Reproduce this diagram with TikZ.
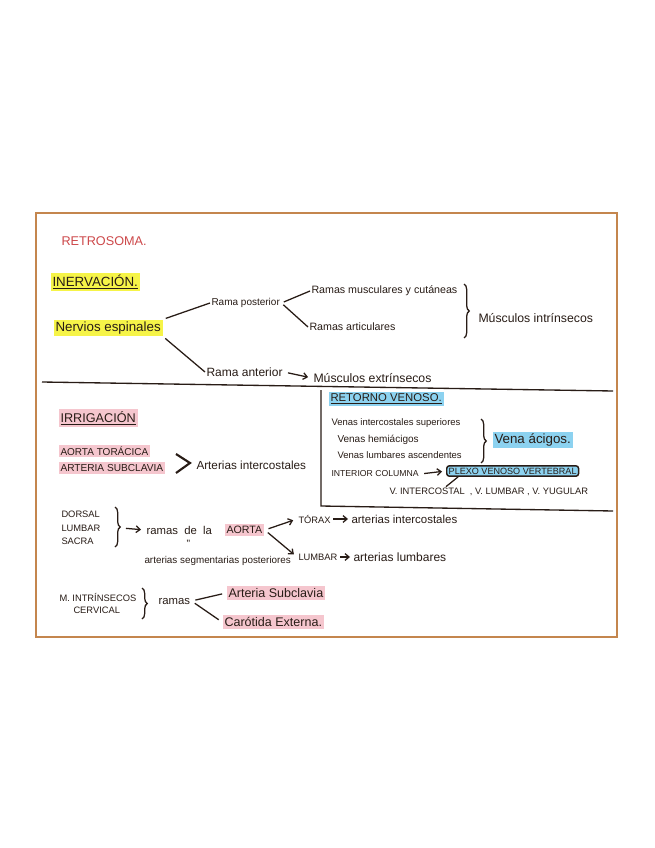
\documentclass[tikz,border=0pt]{standalone}
\usepackage{fontspec}
\setmainfont{Liberation Sans}
\usetikzlibrary{arrows.meta,calc,decorations.pathreplacing}

\definecolor{ink}{RGB}{40,28,22}
\definecolor{retro}{RGB}{205,72,74}
\definecolor{hlyellow}{RGB}{246,244,72}
\definecolor{hlpink}{RGB}{245,198,206}
\definecolor{hlblue}{RGB}{140,210,240}
\definecolor{cardedge}{RGB}{196,134,78}

\tikzset{every picture/.style={line width=0.75pt}}
\tikzset{
  txt/.style={anchor=west, inner sep=0.75pt, align=left, text=ink},
  fs/.style={font=\fontsize{#1}{#1}\selectfont},
  hly/.style={fill=hlyellow, inner sep=1.5pt},
  hlp/.style={fill=hlpink, inner sep=1.5pt},
  hlb/.style={fill=hlblue, inner sep=1.5pt},
  pen/.style={draw=ink, line width=0.95pt},
  arr/.style={pen, -{Straight Barb[length=3pt,width=5pt]}, shorten <=3pt, shorten >=3pt},
  shortarr/.style={pen, -{Straight Barb[length=3pt,width=5pt]}, shorten <=1pt, shorten >=1.5pt},
  hbrace/.style={pen, decorate, decoration={brace, amplitude=4pt}}
}

\begin{document}
\begin{tikzpicture}[x=0.75pt,y=0.75pt,yscale=-1,xscale=1]
    \useasboundingbox (0,0) rectangle (655,848);
    \fill [white] (0,0) rectangle (655,848);

    %Shape: Card
    \draw [draw=cardedge, line width=2.2, fill=white] (36,213) rectangle (617,637);
    %Straight Lines
    \draw [pen, line width=1] (42,382) -- (613,391) ;
    %Straight Lines
    \draw [pen, line width=1] (321,390) -- (321,506) -- (613,511) ;

    % Text Node
    \draw (60,241) node [txt, fs=9.5, text=retro] (title) {RETROSOMA.};
    % Text Node
    \draw (50,282) node [txt, fs=10, hly] (inerv) {\underline{INERVACIÓN.}};
    % Text Node
    \draw (53,328) node [txt, fs=10, hly] (nerv) {Nervios espinales};
    % Text Node
    \draw (210,303) node [txt, fs=7.5] (post) {Rama posterior};
    % Text Node
    \draw (310,291) node [txt, fs=8] (muscut) {Ramas musculares y cutáneas};
    % Text Node
    \draw (308,327) node [txt, fs=8] (artic) {Ramas articulares};
    % Text Node
    \draw (477,318) node [txt, fs=9.2] (intr) {Músculos intrínsecos};
    % Text Node
    \draw (205,372) node [txt, fs=9] (ant) {Rama anterior};
    % Text Node
    \draw (312,378) node [txt, fs=9.2] (extr) {Músculos extrínsecos};

    %Straight Lines
    \draw [pen, shorten <=2pt] (nerv.north east) -- (post.west) ;
    \draw [pen, shorten <=2pt] (nerv.south east) -- (ant.west) ;
    \draw [pen, shorten <=2pt] (post.east) -- (muscut.west) ;
    \draw [pen, shorten <=2pt] (post.east) -- (artic.west) ;
    \draw [arr] (ant.east) -- (extr.west) ;
    %Shape: Brace
    \coordinate (bintrA) at (464,284);
    \coordinate (bintrB) at (464,338);
    \draw [hbrace] (bintrA) -- (bintrB) ;

    % Text Node
    \draw (58,418) node [txt, fs=9.5, hlp] (irrig) {\underline{IRRIGACIÓN}};
    % Text Node
    \draw (58,451) node [txt, fs=7.5, hlp] (aortat) {AORTA TORÁCICA};
    % Text Node
    \draw (58,468) node [txt, fs=7.6, hlp] (subcl) {ARTERIA SUBCLAVIA};
    % Text Node
    \draw (195,465) node [txt, fs=8.8] (interc) {Arterias intercostales};
    %Shape: Chevron
    \coordinate (chev) at (190,463);
    \draw [pen, line width=1.6] (chev) ++(-14,-9) -- (chev) -- ++(-14,10) ;

    % Text Node
    \draw (328,399) node [txt, fs=8.5, hlb] (retorno) {\underline{RETORNO VENOSO.}};
    % Text Node
    \draw (330,423) node [txt, fs=7.1] (vsup) {Venas intercostales superiores};
    % Text Node
    \draw (336,440) node [txt, fs=7.5] (vhemi) {Venas hemiácigos};
    % Text Node
    \draw (336,455) node [txt, fs=7.1] (vlumb) {Venas lumbares ascendentes};
    %Shape: Brace
    \coordinate (bacigA) at (481,419);
    \coordinate (bacigB) at (481,463);
    \draw [hbrace] (bacigA) -- (bacigB) ;
    % Text Node
    \draw (492,440) node [txt, fs=10, hlb] (acigos) {Vena ácigos.};
    % Text Node
    \draw (330,474) node [txt, fs=6.5] (intcol) {INTERIOR COLUMNA};
    % Text Node
    \draw (446,471) node [txt, fs=6.8, hlb, draw=ink, rounded corners=2pt, line width=1.1pt] (plexo) {PLEXO VENOSO VERTEBRAL};
    % Text Node
    \draw (388,492) node [txt, fs=7] (vlist) {V. INTERCOSTAL\ \ , V. LUMBAR , V. YUGULAR};
    %Straight Lines
    \draw [arr] (intcol.east) -- (plexo.west) ;
    \draw [pen] ($(plexo.south west)+(12,0)$) -- ($(vlist.north west)+(58,0)$) ;

    % Text Node
    \draw (60,514) node [txt, fs=7] (dorsal) {DORSAL};
    % Text Node
    \draw (60,528) node [txt, fs=7] (lumbar) {LUMBAR};
    % Text Node
    \draw (60,541) node [txt, fs=7] (sacra) {SACRA};
    %Shape: Brace
    \coordinate (bdorsA) at (115,507);
    \coordinate (bdorsB) at (115,547);
    \coordinate (bdorsT) at (122,528);
    \draw [hbrace] (bdorsA) -- (bdorsB) ;
    % Text Node
    \draw (145,530) node [txt, fs=8.5] (ramas) {ramas\ \ de\ \ la};
    % Text Node
    \draw (224,530) node [txt, fs=8, hlp] (aorta) {AORTA};
    % Text Node
    \draw (185,544) node [txt, fs=8] (ditto) {"};
    % Text Node
    \draw (143,561) node [txt, fs=7.4] (segm) {arterias segmentarias posteriores};
    % Text Node
    \draw (297,519) node [txt, fs=7] (torax) {TÓRAX};
    % Text Node
    \draw (350,519) node [txt, fs=8.6] (intercos) {arterias intercostales};
    % Text Node
    \draw (297,557) node [txt, fs=7] (lumbtwo) {LUMBAR};
    % Text Node
    \draw (352,557) node [txt, fs=9] (lumbares) {arterias lumbares};
    %Straight Lines
    \draw [arr] (bdorsT) -- (ramas.west) ;
    \draw [arr] (aorta.east) -- (torax.west) ;
    \draw [arr] (aorta.east) -- (lumbtwo.west) ;
    \draw [shortarr] (torax.east) -- (intercos.west) ;
    \draw [shortarr] (lumbtwo.east) -- (lumbares.west) ;

    % Text Node
    \draw (58,597) node [txt, fs=7] (mintr) {M. INTRÍNSECOS};
    % Text Node
    \draw (72,610) node [txt, fs=7] (cerv) {CERVICAL};
    %Shape: Brace
    \coordinate (bcervA) at (142,588);
    \coordinate (bcervB) at (142,619);
    \draw [hbrace] (bcervA) -- (bcervB) ;
    % Text Node
    \draw (157,601) node [txt, fs=8.5] (ramastwo) {ramas};
    % Text Node
    \draw (226,593) node [txt, fs=9.4, hlp] (subcltwo) {Arteria Subclavia};
    % Text Node
    \draw (222,622) node [txt, fs=9.4, hlp] (carot) {Carótida Externa.};
    %Straight Lines
    \draw [pen, shorten <=3pt, shorten >=3pt] (ramastwo.east) -- (subcltwo.west) ;
    \draw [pen, shorten <=3pt, shorten >=3pt] (ramastwo.east) -- (carot.west) ;

\end{tikzpicture}
\end{document}
